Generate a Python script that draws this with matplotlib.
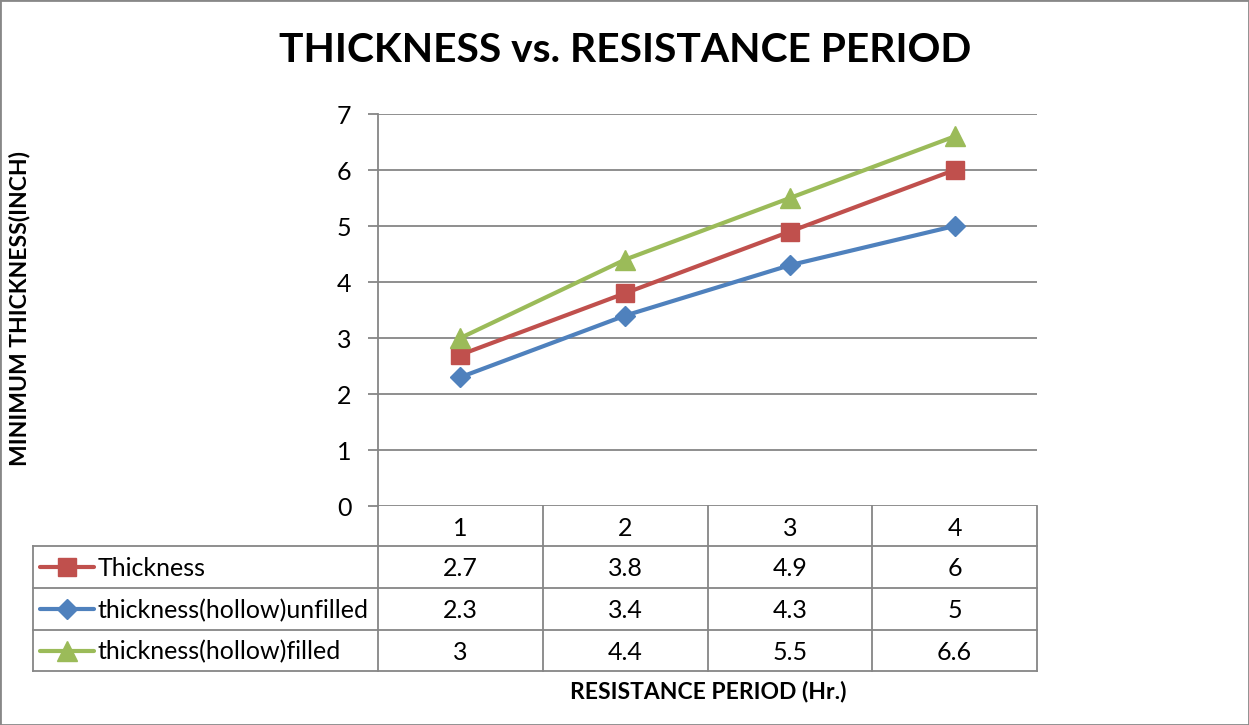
import matplotlib
matplotlib.use("Agg")
import matplotlib.pyplot as plt
from matplotlib.lines import Line2D

categories = ["1", "2", "3", "4"]
series_names = ["Thickness", "thickness(hollow)unfilled", "thickness(hollow)filled"]
thickness = [2.7, 3.8, 4.9, 6]
unfilled = [2.3, 3.4, 4.3, 5]
filled = [3, 4.4, 5.5, 6.6]
yticks = [0, 1, 2, 3, 4, 5, 6, 7]

colors = ["#C0504D", "#4F81BD", "#9BBB59"]
markers = ["s", "D", "^"]
msizes = [13.5, 10, 14]
series = [thickness, unfilled, filled]

W, H = 1249, 725
plt.rcParams['font.family'] = ['Lato', 'DejaVu Sans']
fig = plt.figure(figsize=(W / 100, H / 100), dpi=100)

def fx(px):
    return px / W

def fy(py):
    return 1 - py / H

FS = 18
GRID = "#868686"
L, R, T, B = 378, 1037, 114, 506
ax = fig.add_axes([fx(L), fy(B), fx(R) - fx(L), fy(T) - fy(B)])
x = list(range(1, len(categories) + 1))
for s, c, m, ms in zip(series, colors, markers, msizes):
    ax.plot(x, s, color=c, lw=3, marker=m, ms=ms, markeredgecolor=c, markerfacecolor=c, zorder=3)
ax.set_xlim(0.5, len(categories) + 0.5)
ax.set_ylim(0, 7)
ax.set_yticks(yticks)
ax.set_yticklabels([str(v) for v in yticks], fontsize=FS)
ax.yaxis.grid(True, color=GRID, lw=1.3)
ax.set_axisbelow(True)
for sp in ["top", "right", "bottom"]:
    ax.spines[sp].set_visible(False)
ax.spines["left"].set_color(GRID)
ax.spines["left"].set_linewidth(1.3)
ax.tick_params(axis="y", length=7, width=1.3, color=GRID, pad=12)
ax.set_xticks([])

def hline(py, x0, x1):
    fig.add_artist(Line2D([fx(x0), fx(x1)], [fy(py), fy(py)], color=GRID, lw=1.3))

def vline(px, y0, y1):
    fig.add_artist(Line2D([fx(px), fx(px)], [fy(y0), fy(y1)], color=GRID, lw=1.3))

row_tops = [546, 588, 630, 671]
for py in row_tops:
    hline(py, 33, R)
vline(33, 546, 671)
colw = (R - L) / len(categories)
for i in range(len(categories) + 1):
    vline(L + i * colw, B, 671)

for i, c in enumerate(categories):
    fig.text(fx(L + (i + 0.5) * colw), fy(528), c, ha="center", va="center", fontsize=FS)

order = [0, 1, 2]
for r, si in enumerate(order):
    yc = (row_tops[r] + row_tops[r + 1]) / 2
    ty = yc + 1.5
    fig.add_artist(Line2D([fx(40), fx(94)], [fy(yc), fy(yc)], color=colors[si], lw=3,
                          solid_capstyle="round"))
    fig.add_artist(Line2D([fx(67)], [fy(yc)], color=colors[si], marker=markers[si],
                          ms=msizes[si], markeredgecolor=colors[si], markerfacecolor=colors[si]))
    fig.text(fx(98), fy(ty), series_names[si], ha="left", va="center", fontsize=FS)
    for i, v in enumerate(series[si]):
        fig.text(fx(L + (i + 0.5) * colw), fy(ty), f"{v:g}", ha="center", va="center", fontsize=FS)

fig.text(fx(625), fy(51), "THICKNESS vs. RESISTANCE PERIOD", ha="center", va="center",
         fontsize=29.3, fontweight="bold")
fig.text(fx(708), fy(692), "RESISTANCE PERIOD (Hr.)", ha="center", va="center",
         fontsize=16.5, fontweight="bold")
fig.text(fx(20), fy(309), "MINIMUM THICKNESS(INCH)", ha="center", va="center",
         fontsize=16.5, fontweight="bold", rotation=90)

fig.add_artist(plt.Rectangle((0, 0), 1, 1, transform=fig.transFigure, fill=False,
                             edgecolor="#888888", lw=2))

fig.savefig("out.png", dpi=100)
